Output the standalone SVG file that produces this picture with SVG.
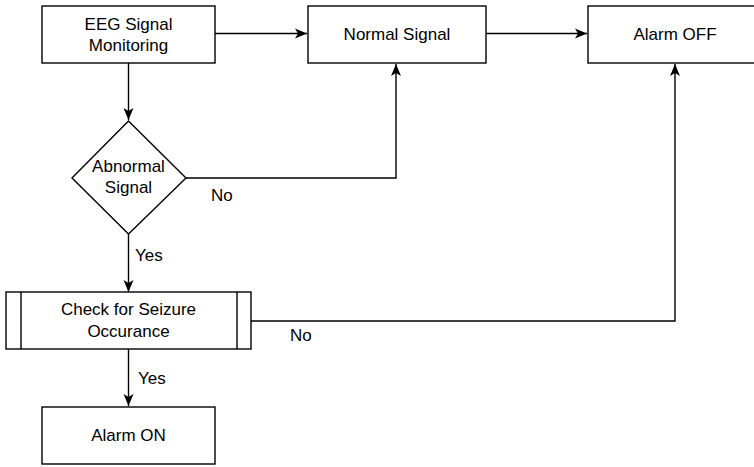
<svg xmlns="http://www.w3.org/2000/svg" width="754" height="467" viewBox="0 0 754 467">
<defs>
<style>
.box{fill:#fff;stroke:#000;stroke-width:1.4}
.ln{fill:none;stroke:#000;stroke-width:1.4}
text{font-family:"Liberation Sans",Arial,sans-serif;font-size:17px;fill:#000}
.c{text-anchor:middle}
</style>
<marker id="ah" markerWidth="13" markerHeight="13" viewBox="0 0 13 13" refX="12" refY="6.5" orient="auto" markerUnits="userSpaceOnUse">
<path d="M0,1.5 L12,6.5 L0,11.5 L3,6.5 z" fill="#000"/>
</marker>
</defs>
<rect width="754" height="467" fill="#fff"/>
<g id="connectors">
<path class="ln" d="M215,33.5 L307,33.5" marker-end="url(#ah)"/>
<path class="ln" d="M486,33.5 L587,33.5" marker-end="url(#ah)"/>
<path class="ln" d="M128.5,63 L128.5,120" marker-end="url(#ah)"/>
<path class="ln" d="M186,178 L396,178 L396,64" marker-end="url(#ah)"/>
<path class="ln" d="M128.5,234 L128.5,292" marker-end="url(#ah)"/>
<path class="ln" d="M251,321 L675,321 L675,64" marker-end="url(#ah)"/>
<path class="ln" d="M128.5,349 L128.5,406" marker-end="url(#ah)"/>
<text x="211" y="201">No</text>
<text x="135" y="261">Yes</text>
<text x="290" y="341">No</text>
<text x="138" y="384">Yes</text>
</g>
<g id="eeg">
<rect class="box" x="42" y="6" width="173" height="57"/>
<text class="c" x="128.5" y="30">EEG Signal</text>
<text class="c" x="128.5" y="51">Monitoring</text>
</g>
<g id="normal">
<rect class="box" x="308" y="6" width="178" height="57"/>
<text class="c" x="397" y="40">Normal Signal</text>
</g>
<g id="alarmoff">
<rect class="box" x="588" y="6" width="174" height="57"/>
<text class="c" x="675" y="40">Alarm OFF</text>
</g>
<g id="abnormal">
<polygon class="box" points="128.5,121 186,178 128.5,234 72,178"/>
<text class="c" x="128.5" y="172">Abnormal</text>
<text class="c" x="128.5" y="193">Signal</text>
</g>
<g id="check">
<rect class="box" x="6" y="292" width="245" height="57"/>
<path class="ln" d="M21,292 L21,349 M237,292 L237,349"/>
<text class="c" x="128.5" y="315">Check for Seizure</text>
<text class="c" x="128.5" y="337">Occurance</text>
</g>
<g id="alarmon">
<rect class="box" x="42" y="407" width="173" height="57"/>
<text class="c" x="128.5" y="441">Alarm ON</text>
</g>
</svg>
